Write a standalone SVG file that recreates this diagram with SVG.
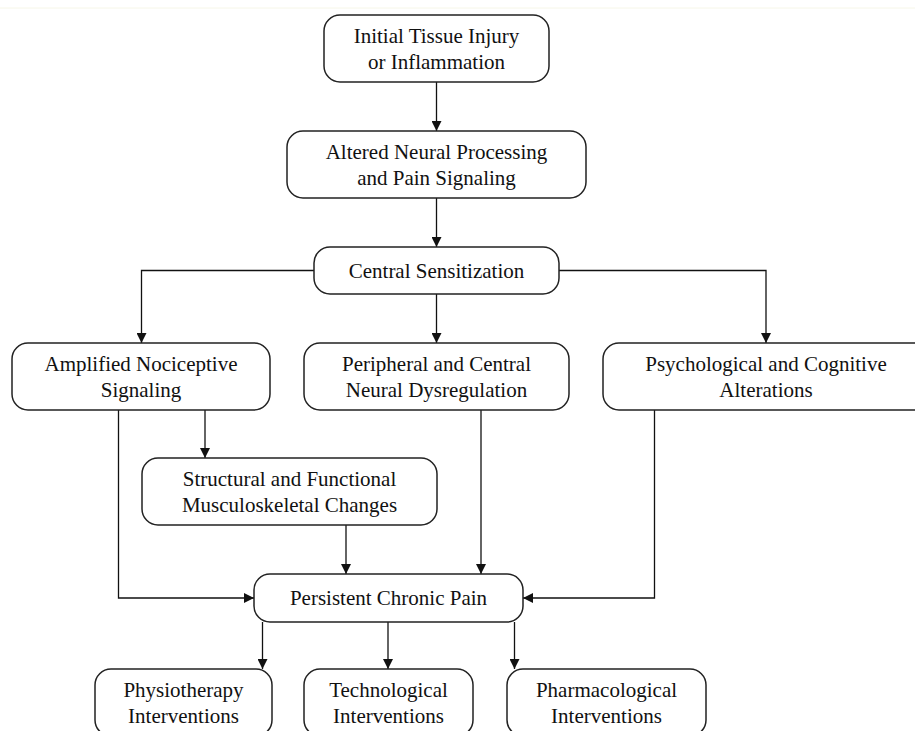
<svg xmlns="http://www.w3.org/2000/svg" width="915" height="731" viewBox="0 0 915 731">
<defs>
<style>
.node rect{fill:#fff;stroke:#222;stroke-width:1.5}
.node text{font-family:"Liberation Serif","Times New Roman",serif;font-size:21px;fill:#111;text-anchor:middle}
#edges path{fill:none;stroke:#111;stroke-width:1.3}
</style>
<marker id="ah" viewBox="0 0 10 10" refX="10" refY="5" markerWidth="10" markerHeight="10" markerUnits="userSpaceOnUse" orient="auto">
<path d="M0,0 L10,5 L0,10 z" fill="#111"/>
</marker>
</defs>
<rect width="915" height="731" fill="#fff"/>
<line x1="0" y1="8" x2="915" y2="8" stroke="#f6f6e8" stroke-width="1"/>
<g id="edges">
<path d="M436.5,82 V131" marker-end="url(#ah)"/>
<path d="M436.5,198 V247" marker-end="url(#ah)"/>
<path d="M314,270.5 H141.5 V343" marker-end="url(#ah)"/>
<path d="M436.5,294 V343" marker-end="url(#ah)"/>
<path d="M559,270.5 H766 V343" marker-end="url(#ah)"/>
<path d="M118.5,410 V598 H254" marker-end="url(#ah)"/>
<path d="M205,410 V458" marker-end="url(#ah)"/>
<path d="M346,525 V574" marker-end="url(#ah)"/>
<path d="M481,410 V574" marker-end="url(#ah)"/>
<path d="M654.5,410 V598 H523" marker-end="url(#ah)"/>
<path d="M262.5,622 V669" marker-end="url(#ah)"/>
<path d="M388,622 V669" marker-end="url(#ah)"/>
<path d="M514.5,622 V669" marker-end="url(#ah)"/>
</g>
<g id="n1" class="node"><rect x="324" y="15" width="225" height="67" rx="16"/><text x="436.5" y="43">Initial Tissue Injury</text><text x="436.5" y="69">or Inflammation</text></g>
<g id="n2" class="node"><rect x="287" y="131" width="299" height="67" rx="16"/><text x="436.5" y="159">Altered Neural Processing</text><text x="436.5" y="185">and Pain Signaling</text></g>
<g id="n3" class="node"><rect x="314" y="247" width="245" height="47" rx="16"/><text x="436.5" y="277.5">Central Sensitization</text></g>
<g id="n4" class="node"><rect x="12" y="343" width="258" height="67" rx="16"/><text x="141" y="370.5">Amplified Nociceptive</text><text x="141" y="396.5">Signaling</text></g>
<g id="n5" class="node"><rect x="304" y="343" width="265" height="67" rx="16"/><text x="436.5" y="370.5">Peripheral and Central</text><text x="436.5" y="396.5">Neural Dysregulation</text></g>
<g id="n6" class="node"><rect x="603" y="343" width="326" height="67" rx="16"/><text x="766" y="370.5">Psychological and Cognitive</text><text x="766" y="396.5">Alterations</text></g>
<g id="n7" class="node"><rect x="142" y="458" width="295" height="67" rx="16"/><text x="289.5" y="485.5">Structural and Functional</text><text x="289.5" y="511.5">Musculoskeletal Changes</text></g>
<g id="n8" class="node"><rect x="254" y="574" width="269" height="48" rx="16"/><text x="388.5" y="605">Persistent Chronic Pain</text></g>
<g id="n9" class="node"><rect x="95" y="669" width="177" height="67" rx="16"/><text x="183.5" y="697">Physiotherapy</text><text x="183.5" y="723">Interventions</text></g>
<g id="n10" class="node"><rect x="304" y="669" width="169" height="67" rx="16"/><text x="388.5" y="697">Technological</text><text x="388.5" y="723">Interventions</text></g>
<g id="n11" class="node"><rect x="507" y="669" width="199" height="67" rx="16"/><text x="606.5" y="697">Pharmacological</text><text x="606.5" y="723">Interventions</text></g>
</svg>
